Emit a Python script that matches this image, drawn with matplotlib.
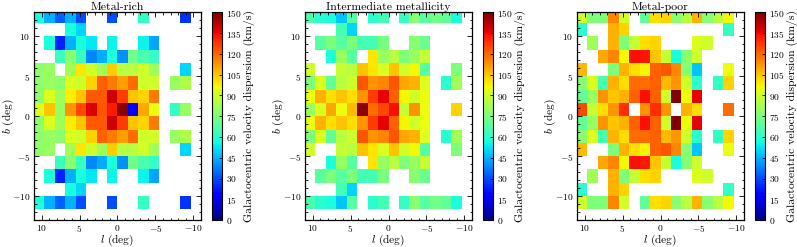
import numpy as np
import matplotlib
matplotlib.use("Agg")
import matplotlib.pyplot as plt
from matplotlib.ticker import MultipleLocator

plt.rcParams["font.family"] = "serif"
plt.rcParams["font.serif"] = ["cmr10", "DejaVu Serif"]
plt.rcParams["mathtext.fontset"] = "cm"
plt.rcParams["axes.formatter.use_mathtext"] = True

n = np.nan

# bin edges (deg)
l_edges = [11.0, 9.625, 8.25, 6.875, 5.5, 4.125, 2.75, 1.375, 0.0,
           -1.375, -2.75, -4.125, -5.5, -6.875, -8.25, -9.625, -11.0]
b_edges = [13.333, 11.667, 10.0, 8.333, 6.667, 5.0, 3.333, 1.667, 0.0,
           -1.667, -3.333, -5.0, -6.667, -8.333, -10.0, -11.667]

titles = ["Metal-rich", "Intermediate metallicity", "Metal-poor"]

# velocity dispersion (km/s), rows from top (b=13.3) to bottom, columns l=11 -> -11
metal_rich = [
    [58, 45, 33, 45, 30, n, n, 30, n, n, 62, n, n, n, 26, n],
    [n, n, n, 57, 50, n, n, n, n, n, n, n, n, n, n, n],
    [n, 58, 24, 45, 57, 53, n, 55, n, n, 55, 43, n, n, n, n],
    [n, n, 63, 77, 63, 39, 44, 58, 40, 73, 66, 62, n, n, n, n],
    [78, 80, n, 82, 100, 90, 82, 104, 86, 86, 90, 82, n, n, 50, n],
    [78, 80, 78, 92, 90, 103, 121, 117, 111, 119, 90, 90, n, 80, 84, n],
    [78, 92, 82, 99, 105, 122, 122, 140, 127, 105, 103, 117, n, n, n, n],
    [92, 105, 80, 113, 125, 138, 123, 132, 148, 18, 110, 95, n, 62, 80, n],
    [78, 92, 82, 99, 105, 122, 122, 140, 127, 105, 103, 117, n, n, n, n],
    [78, 80, 78, 92, 90, 103, 121, 117, 111, 119, 90, 90, n, 80, 84, n],
    [78, 80, n, 82, 100, 90, 82, 104, 86, 86, 90, 82, n, n, 50, n],
    [n, n, 63, 77, 63, 39, 44, 58, 40, 73, 66, 62, n, n, n, n],
    [n, 58, 24, 45, 57, 53, n, 55, n, n, 55, 43, n, n, n, n],
    [n, n, n, 57, 50, n, n, n, n, n, n, n, n, n, n, n],
    [58, 45, 33, 45, 30, n, n, 30, n, n, 62, n, n, n, 26, n],
]

intermediate = [
    [66, 60, 58, 48, 68, n, 60, 65, n, 62, 77, 68, 73, 70, 58, n],
    [n, n, n, 65, 50, n, n, n, n, n, n, n, n, n, n, n],
    [n, 68, 75, 68, 75, 65, 65, 74, n, n, 77, 72, n, n, n, n],
    [n, n, 58, 80, 68, n, 100, 80, 86, 75, 80, 88, n, n, n, n],
    [90, n, n, 88, 86, 105, 100, 92, 105, 90, 97, 68, n, n, 75, n],
    [75, 92, 70, 86, 90, 123, 113, 115, 123, 110, 108, 93, n, 60, 82, n],
    [95, 108, 101, 105, 101, 113, 127, 136, 121, 97, 90, 95, n, n, n, n],
    [80, 92, 110, 95, 107, 148, 119, 125, 134, 88, 113, 95, n, n, 103, n],
    [95, 108, 101, 105, 101, 113, 127, 136, 121, 97, 90, 95, n, n, n, n],
    [75, 92, 70, 86, 90, 123, 113, 115, 123, 110, 108, 93, n, 60, 82, n],
    [90, n, n, 88, 86, 105, 100, 92, 105, 90, 97, 68, n, n, 75, n],
    [n, n, 58, 80, 68, n, 100, 80, 86, 75, 80, 88, n, n, n, n],
    [n, 68, 75, 68, 75, 65, 65, 74, n, n, 77, 72, n, n, n, n],
    [n, n, n, 65, 50, n, n, n, n, n, n, n, n, n, n, n],
    [66, 60, 58, 48, 68, n, 60, 65, n, 62, 77, 68, 73, 70, 58, n],
]

metal_poor = [
    [90, 75, 75, 115, 90, n, 70, 101, 103, 77, 86, 108, 77, 86, 97, n],
    [60, n, n, 108, 103, n, n, n, n, n, n, n, n, n, 62, n],
    [n, 82, n, 108, 75, 88, 101, 103, n, n, n, 92, 90, n, n, n],
    [n, n, 110, 115, 97, 134, 133, 105, 88, 57, 77, 90, n, n, n, n],
    [107, n, n, 75, 108, 101, 97, 121, 123, 115, 77, 48, n, n, 95, n],
    [77, 92, 65, 108, 101, 119, 119, 121, 107, 113, 90, 60, n, 62, 103, n],
    [70, 80, 113, 105, 108, 121, 134, 121, 90, 150, 95, 136, n, n, n, n],
    [125, 88, 101, 113, 129, n, 113, 129, 113, n, 108, 101, n, n, 119, n],
    [70, 80, 113, 105, 108, 121, 134, 121, 90, 150, 95, 136, n, n, n, n],
    [77, 92, 65, 108, 101, 119, 119, 121, 107, 113, 90, 60, n, 62, 103, n],
    [107, n, n, 75, 108, 101, 97, 121, 123, 115, 77, 48, n, n, 95, n],
    [n, n, 110, 115, 97, 134, 133, 105, 88, 57, 77, 90, n, n, n, n],
    [n, 82, n, 108, 75, 88, 101, 103, n, n, n, 92, 90, n, n, n],
    [60, n, n, 108, 103, n, n, n, n, n, n, n, n, n, 62, n],
    [90, 75, 75, 115, 90, n, 70, 101, 103, 77, 86, 108, 77, 86, 97, n],
]

cbar_ticks = list(range(0, 151, 15))

W, H = 797, 247
fig = plt.figure(figsize=(W / 100, H / 100), dpi=100)


def px_rect(x0, y0, x1, y1):
    return [x0 / W, 1 - y1 / H, (x1 - x0) / W, (y1 - y0) / H]


panel_x = [34, 305, 577]
for i, (title, grid) in enumerate(zip(titles, [metal_rich, intermediate, metal_poor])):
    x0 = panel_x[i]
    ax = fig.add_axes(px_rect(x0, 12.5, x0 + 167, 220))
    cax = fig.add_axes(px_rect(x0 + 178, 12.5, x0 + 188, 220))

    data = np.ma.masked_invalid(np.array(grid, dtype=float))
    mesh = ax.pcolormesh(l_edges, b_edges, data, cmap="jet", vmin=0, vmax=150)
    ax.set_xlim(11, -11)
    ax.set_ylim(-13, 13)

    ax.set_title(title, fontsize=8.5, pad=2)
    ax.set_xlabel("$l$ (deg)", fontsize=8.2)
    ax.set_ylabel("$b$ (deg)", fontsize=8.2)
    # label placement in axes fraction (axes is 167 x 207.5 px)
    ax.xaxis.set_label_coords(0.5, -12.5 / 207.5)
    ax.yaxis.set_label_coords(-18.5 / 167, 0.5)
    ax.set_xticks([10, 5, 0, -5, -10])
    ax.set_yticks([-10, -5, 0, 5, 10])
    ax.xaxis.set_minor_locator(MultipleLocator(1))
    ax.yaxis.set_minor_locator(MultipleLocator(1))
    ax.tick_params(which="both", direction="in", top=True, right=True,
                   labelsize=6.8, width=0.6)
    ax.tick_params(which="major", length=3.5, pad=2.5)
    ax.tick_params(which="minor", length=1.8)
    for sp in ax.spines.values():
        sp.set_linewidth(0.9)

    cb = fig.colorbar(mesh, cax=cax, ticks=cbar_ticks)
    cb.set_label("Galactocentric velocity dispersion (km/s)", fontsize=8.4, labelpad=1.5)
    cb.ax.tick_params(labelsize=6.8, direction="in", length=2.5, width=0.6, pad=3)
    cb.outline.set_linewidth(0.8)

fig.savefig("out.png", dpi=100)
